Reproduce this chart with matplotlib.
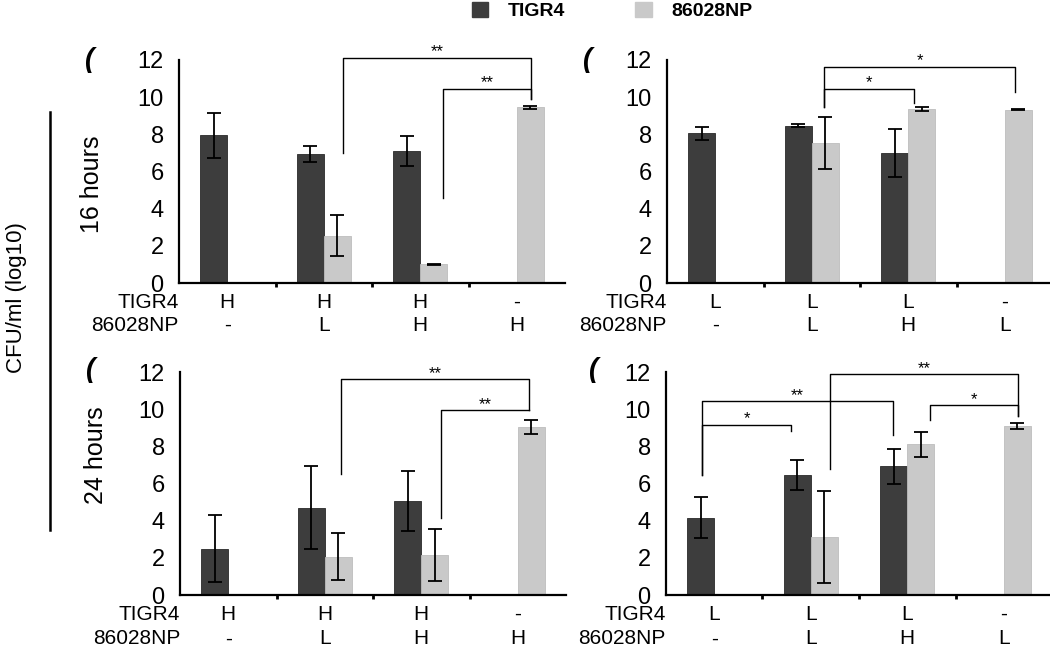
import numpy as np
import matplotlib
matplotlib.use("Agg")
import matplotlib.pyplot as plt
from matplotlib.patches import Patch
from matplotlib.lines import Line2D

plt.rcParams['font.family'] = ['Liberation Sans', 'DejaVu Sans']

nan = np.nan

# category codes under each group of bars
tigr4_H = ['H', 'H', 'H', '-']
np_H = ['-', 'L', 'H', 'H']
tigr4_L = ['L', 'L', 'L', '-']
np_L = ['-', 'L', 'H', 'L']

# log10 CFU/ml, mean and error
tigr4_16H = [7.95, 6.95, 7.1, nan]
tigr4_16H_err = [1.2, 0.42, 0.8, nan]
np_16H = [nan, 2.55, 1.0, 9.45]
np_16H_err = [nan, 1.1, 0.02, 0.08]

tigr4_16L = [8.05, 8.45, 7.0, nan]
tigr4_16L_err = [0.36, 0.08, 1.3, nan]
np_16L = [nan, 7.55, 9.36, 9.33]
np_16L_err = [nan, 1.4, 0.1, 0.03]

tigr4_24H = [2.5, 4.7, 5.06, nan]
tigr4_24H_err = [1.8, 2.25, 1.6, nan]
np_24H = [nan, 2.06, 2.16, 9.05]
np_24H_err = [nan, 1.25, 1.4, 0.36]

tigr4_24L = [4.17, 6.45, 6.92, nan]
tigr4_24L_err = [1.08, 0.82, 0.94, nan]
np_24L = [nan, 3.1, 8.11, 9.09]
np_24L_err = [nan, 2.47, 0.66, 0.16]

# significance brackets: x1, x2, bracket y, left leg end, right leg end, label
sig_16H = [(1.2, 3.15, 12.13, 6.98, 9.9, '**'),
           (2.24, 3.15, 10.44, 4.6, 9.9, '**')]
sig_16L = [(1.13, 3.11, 11.64, 9.45, 10.3, '*'),
           (1.13, 2.06, 10.46, 9.45, 9.67, '*')]
sig_24H = [(1.17, 3.12, 11.61, 6.49, 9.95, '**'),
           (2.2, 3.12, 9.95, 4.13, 9.95, '**')]
sig_24L = [(1.2, 3.145, 11.88, 6.79, 9.65, '**'),
           (-0.13, 1.85, 10.42, 6.45, 8.59, '**'),
           (-0.13, 0.8, 9.16, 6.45, 8.8, '*'),
           (2.24, 3.145, 10.22, 9.41, 9.65, '*')]

dark = '#3d3d3d'
light = '#c9c9c9'
W, H = 1050, 648

fig = plt.figure(figsize=(10.5, 6.48), dpi=100)


def panel(rect, t_vals, t_err, n_vals, n_err, t_codes, n_codes, sigs, row_off):
    # rect = (left px, bottom px) measured from the top-left corner
    ax = fig.add_axes([rect[0] / W, 1 - rect[1] / H, 386 / W, 223 / H])
    x = np.arange(4)
    w = 0.28
    ax.bar(x - w / 2, t_vals, w, color=dark, edgecolor='#2a2a2a', linewidth=0.6)
    ax.bar(x + w / 2, n_vals, w, color=light, edgecolor='#bdbdbd', linewidth=0.6)
    ax.errorbar(x - w / 2, t_vals, yerr=t_err, fmt='none', ecolor='black',
                elinewidth=1.3, capsize=5, capthick=1.3)
    ax.errorbar(x + w / 2, n_vals, yerr=n_err, fmt='none', ecolor='black',
                elinewidth=1.3, capsize=5, capthick=1.3)
    ax.set_xlim(-0.5, 3.5)
    ax.set_ylim(0, 12)
    ax.set_yticks(range(0, 13, 2))
    ax.set_xticks([])
    ax.set_xticks([0.5, 1.5, 2.5], minor=True)
    ax.tick_params(axis='x', which='minor', length=3, width=2, direction='out')
    ax.tick_params(axis='y', length=0, pad=11, labelsize=17)
    for s in ['top', 'right']:
        ax.spines[s].set_visible(False)
    for s in ['left', 'bottom']:
        ax.spines[s].set_linewidth(1.6)
    trans = ax.get_xaxis_transform()
    for i in range(4):
        ax.annotate(t_codes[i], (i, 0), xycoords=trans, xytext=(0, -row_off[0]),
                    textcoords='offset points', ha='center', va='center', fontsize=15)
        ax.annotate(n_codes[i], (i, 0), xycoords=trans, xytext=(0, -row_off[1]),
                    textcoords='offset points', ha='center', va='center', fontsize=15)
    ax.annotate('TIGR4', (0, 0), xycoords='axes fraction', xytext=(0, -row_off[0]),
                textcoords='offset points', ha='right', va='center', fontsize=15)
    ax.annotate('86028NP', (0, 0), xycoords='axes fraction', xytext=(0, -row_off[1]),
                textcoords='offset points', ha='right', va='center', fontsize=15)
    for x1, x2, y, b1, b2, lab in sigs:
        ax.plot([x1, x1, x2, x2], [b1, y, y, b2], color='black', lw=1.0, clip_on=False)
        ax.annotate(lab, ((x1 + x2) / 2, y), xytext=(0, 1), textcoords='offset points',
                    ha='center', va='baseline', fontsize=12, annotation_clip=False)
    return ax


panel((179, 283), tigr4_16H, tigr4_16H_err, np_16H, np_16H_err, tigr4_H, np_H, sig_16H, (14, 30.5))
panel((667, 283), tigr4_16L, tigr4_16L_err, np_16L, np_16L_err, tigr4_L, np_L, sig_16L, (14, 30.5))
panel((180, 595), tigr4_24H, tigr4_24H_err, np_24H, np_24H_err, tigr4_H, np_H, sig_24H, (14, 31.5))
panel((666, 595), tigr4_24L, tigr4_24L_err, np_24L, np_24L_err, tigr4_L, np_L, sig_24L, (14, 31.5))

# row labels and shared y label
fig.text(92 / W, 1 - 184 / H, '16 hours', rotation=90, ha='center', va='center', fontsize=18)
fig.text(96 / W, 1 - 455 / H, '24 hours', rotation=90, ha='center', va='center', fontsize=18)
fig.text(17 / W, 1 - 298 / H, 'CFU/ml (log10)', rotation=90, ha='center', va='center', fontsize=16)
fig.add_artist(Line2D([50 / W, 50 / W], [1 - 112 / H, 1 - 530 / H], color='black', lw=1.8))

# cropped panel letters
for px, py in [(90, 60), (588, 60), (91, 370), (594, 370)]:
    fig.text(px / W, 1 - py / H, '(', fontsize=20, fontweight='bold', style='italic',
             ha='center', va='center')

handles = [Patch(facecolor=dark, edgecolor=dark), Patch(facecolor=light, edgecolor=light)]
fig.legend(handles, ['TIGR4', '86028NP'], loc='center', bbox_to_anchor=(0.583, 1 - 11 / H),
           ncol=2, frameon=False, prop={'weight': 'bold', 'size': 14},
           handlelength=0.87, handleheight=0.87, handletextpad=1.0, columnspacing=3.6)

fig.savefig('out.png', dpi=100)
